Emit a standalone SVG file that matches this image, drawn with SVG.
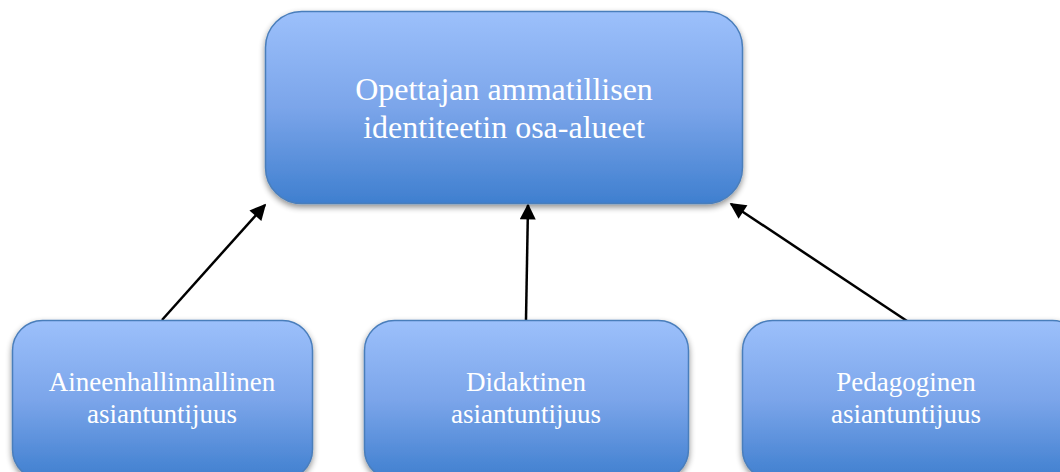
<svg xmlns="http://www.w3.org/2000/svg" width="1060" height="472" viewBox="0 0 1060 472">
<style>
.box{fill:url(#g);stroke:#4a7ebb;stroke-width:1.5;filter:url(#sh)}
.t{font-family:"Liberation Serif",serif;fill:#fff;text-anchor:middle}
.big{font-size:32px}
.sm{font-size:27px}
.c{stroke:#000;stroke-width:2.5;fill:none;marker-end:url(#ah)}
</style>
<defs>
<linearGradient id="g" x1="0" y1="0" x2="0" y2="1">
<stop offset="0" stop-color="#9cc0fb"/>
<stop offset="0.5" stop-color="#7ba5ea"/>
<stop offset="1" stop-color="#3f7fcf"/>
</linearGradient>
<filter id="sh" x="-10%" y="-10%" width="120%" height="130%">
<feGaussianBlur in="SourceAlpha" stdDeviation="3"/>
<feOffset dx="0" dy="3" result="b"/>
<feComponentTransfer><feFuncA type="linear" slope="0.45"/></feComponentTransfer>
<feMerge><feMergeNode/><feMergeNode in="SourceGraphic"/></feMerge>
</filter>
<marker id="ah" viewBox="0 0 10 10" refX="9" refY="5" markerWidth="18" markerHeight="16" orient="auto" markerUnits="userSpaceOnUse">
<path d="M0,0 L10,5 L0,10 z" fill="#000"/>
</marker>
</defs>
<g id="connectors">
<line class="c" x1="162" y1="320" x2="265" y2="205"/>
<line class="c" x1="526" y1="320" x2="528" y2="205"/>
<line class="c" x1="907" y1="321" x2="731" y2="204"/>
</g>
<g id="top">
<rect class="box" x="265.5" y="11.5" width="477" height="192" rx="36"/>
<text class="t big" x="504" y="100">Opettajan ammatillisen</text>
<text class="t big" x="504" y="138">identiteetin osa-alueet</text>
</g>
<g id="left">
<rect class="box" x="12.5" y="320.5" width="300" height="159" rx="30"/>
<text class="t sm" x="162" y="391">Aineenhallinnallinen</text>
<text class="t sm" x="162" y="423">asiantuntijuus</text>
</g>
<g id="middle">
<rect class="box" x="364.5" y="320.5" width="324" height="159" rx="30"/>
<text class="t sm" x="526" y="391">Didaktinen</text>
<text class="t sm" x="526" y="423">asiantuntijuus</text>
</g>
<g id="right">
<rect class="box" x="742.5" y="320.5" width="340" height="159" rx="30"/>
<text class="t sm" x="906" y="391">Pedagoginen</text>
<text class="t sm" x="906" y="423">asiantuntijuus</text>
</g>
</svg>
